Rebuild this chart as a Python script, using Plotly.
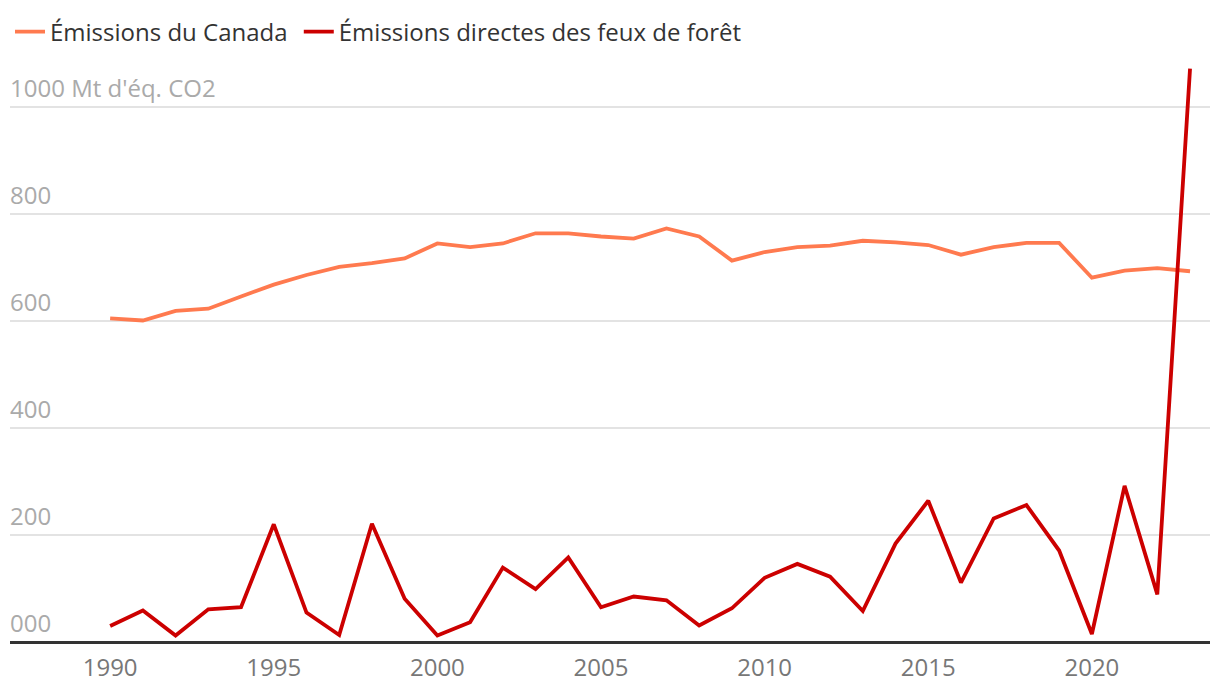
import plotly.graph_objects as go

years = list(range(1990, 2024))
canada = [605, 601, 619, 623, 646, 668, 686, 701, 708, 717,
          745, 738, 745, 764, 764, 758, 754, 773, 758, 713,
          729, 738, 741, 750, 747, 742, 724, 738, 746, 746,
          681, 694, 699, 693]
fires = [30, 59, 12, 61, 65, 220, 55, 13, 221, 81,
         12, 37, 139, 99, 158, 65, 85, 78, 31, 63,
         120, 146, 122, 58, 184, 264, 111, 231, 256, 171,
         15, 292, 89, 1072]
series_names = ["Émissions du Canada", "Émissions directes des feux de forêt"]
series_colors = ["#FF7A4F", "#CC0000"]
y_ticks = [0, 200, 400, 600, 800, 1000]
y_tick_labels = ["000", "200", "400", "600", "800", "1000 Mt d'éq. CO2"]
x_ticks = [1990, 1995, 2000, 2005, 2010, 2015, 2020]

FONT = "Open Sans"

fig = go.Figure()
for name, vals, col in zip(series_names, [canada, fires], series_colors):
    fig.add_trace(go.Scatter(x=years, y=vals, mode="lines", name=name + " ",
                             line=dict(color=col, width=3.8)))

for v, t in zip(y_ticks, y_tick_labels):
    fig.add_annotation(x=0, xref="paper", y=v, yref="y", text=t,
                       showarrow=False, xanchor="left", yanchor="bottom",
                       xshift=-2, yshift=1,
                       font=dict(family=FONT, size=24, color="#AAAAAA"))

fig.update_layout(
    width=1220, height=692,
    margin=dict(l=2, r=18, t=52, b=58, autoexpand=False),
    plot_bgcolor="white", paper_bgcolor="white",
    font=dict(family=FONT, size=24, color="#333333"),
    showlegend=True,
    legend=dict(orientation="h", x=0, xanchor="left", y=1.048, yanchor="middle",
                font=dict(family=FONT, size=24, color="#333333"),
                itemwidth=30, tracegroupgap=0, bgcolor="rgba(0,0,0,0)"),
    xaxis=dict(range=[1986.94, 2023.61], tickvals=x_ticks, showgrid=False,
               zeroline=False, showline=False, ticks="", ticklabelstandoff=9,
               tickfont=dict(family=FONT, size=24, color="#777777")),
    yaxis=dict(range=[0, 1087.9], tickvals=y_ticks, showticklabels=False,
               showgrid=True, gridcolor="#E3E3E3", gridwidth=1.5,
               zeroline=True, zerolinecolor="#333333", zerolinewidth=2.5,
               showline=False, ticks=""),
)
fig.write_html("out.html")
